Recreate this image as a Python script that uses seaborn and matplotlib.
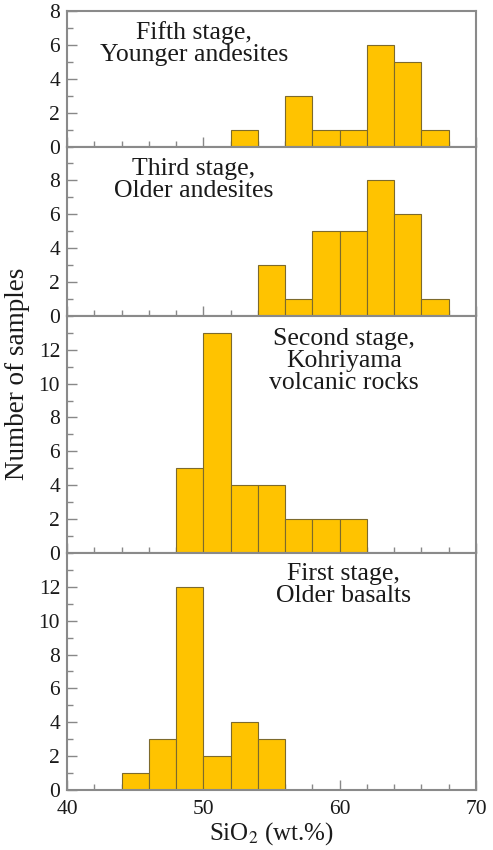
import numpy as np
import pandas as pd
import matplotlib
matplotlib.use("Agg")
import matplotlib.pyplot as plt
from matplotlib.ticker import MultipleLocator
import seaborn as sns

# SiO2 histogram data (2 wt.% bins, left edges) for each eruptive stage
fifth_bins = [52, 56, 58, 60, 62, 64, 66]
fifth_counts = [1, 3, 1, 1, 6, 5, 1]

third_bins = [54, 56, 58, 60, 62, 64, 66]
third_counts = [3, 1, 5, 5, 8, 6, 1]

second_bins = [48, 50, 52, 54, 56, 58, 60]
second_counts = [5, 13, 4, 4, 2, 2, 2]

first_bins = [44, 46, 48, 50, 52, 54]
first_counts = [1, 3, 12, 2, 4, 3]

stage_labels = [
    "Fifth stage,\nYounger andesites",
    "Third stage,\nOlder andesites",
    "Second stage,\nKohriyama\nvolcanic rocks",
    "First stage,\nOlder basalts",
]
y_max = [8, 10, 14, 14]
bin_width = 2
x_range = (40, 70)

sns.set_theme(style="white")
plt.rcParams["font.family"] = ["Liberation Serif", "DejaVu Serif"]
plt.rcParams["mathtext.fontset"] = "stix"

fig = plt.figure(figsize=(4.93, 8.5), dpi=100)
gs = fig.add_gridspec(4, 1, height_ratios=y_max, hspace=0,
                      left=0.136, right=0.9655, top=0.987, bottom=0.0706)

panels = [
    (fifth_bins, fifth_counts),
    (third_bins, third_counts),
    (second_bins, second_counts),
    (first_bins, first_counts),
]
text_pos = [(0.31, 0.925), (0.31, 0.935), (0.677, 0.95), (0.677, 0.958)]

axes = []
for i, ((bins, counts), label, ymax) in enumerate(zip(panels, stage_labels, y_max)):
    ax = fig.add_subplot(gs[i], sharex=axes[0] if axes else None)
    df = pd.DataFrame({"sio2": np.array(bins, dtype=float) + bin_width / 2,
                       "n": np.array(counts, dtype=float)})
    sns.histplot(data=df, x="sio2", weights="n", binwidth=bin_width,
                 binrange=x_range, ax=ax,
                 color="#FFC300", alpha=1.0, edgecolor="#7d6a2c", linewidth=0.8)
    ax.set_xlim(*x_range)
    ax.set_ylim(0, ymax)
    ax.set_xlabel("")
    ax.set_ylabel("")
    # only the top panel labels its upper limit
    top_tick = ymax + 1 if i == 0 else ymax
    ax.set_yticks(np.arange(0, top_tick, 2))
    ax.yaxis.set_minor_locator(MultipleLocator(1))
    ax.xaxis.set_major_locator(MultipleLocator(10))
    ax.xaxis.set_minor_locator(MultipleLocator(2))
    ax.tick_params(axis="both", which="both", direction="in", colors="#888888",
                   labelcolor="#1a1a1a", labelsize=15.5)
    ax.tick_params(axis="both", which="major", length=7, width=1.0,
                   bottom=True, left=True, top=False, right=False)
    ax.tick_params(axis="both", which="minor", length=4, width=1.0,
                   bottom=True, left=True, top=False, right=False)
    ax.tick_params(axis="y", pad=5)
    ax.tick_params(axis="x", pad=7)
    for s in ax.spines.values():
        s.set_color("#8a8a8a")
        s.set_linewidth(1.5)
    if i < 3:
        ax.tick_params(axis="x", labelbottom=False)
    tx, ty = text_pos[i]
    ax.text(tx, ty, label, transform=ax.transAxes, ha="center", va="top",
            fontsize=18.5, color="#1a1a1a", linespacing=1.0)
    axes.append(ax)

axes[-1].set_xlabel(r"SiO$_2$ (wt.%)", fontsize=18, color="#1a1a1a", labelpad=1)
fig.text(0.035, 0.56, "Number of samples", rotation=90, ha="center", va="center",
         fontsize=19.5, color="#1a1a1a")

fig.savefig("out.png", dpi=100)
